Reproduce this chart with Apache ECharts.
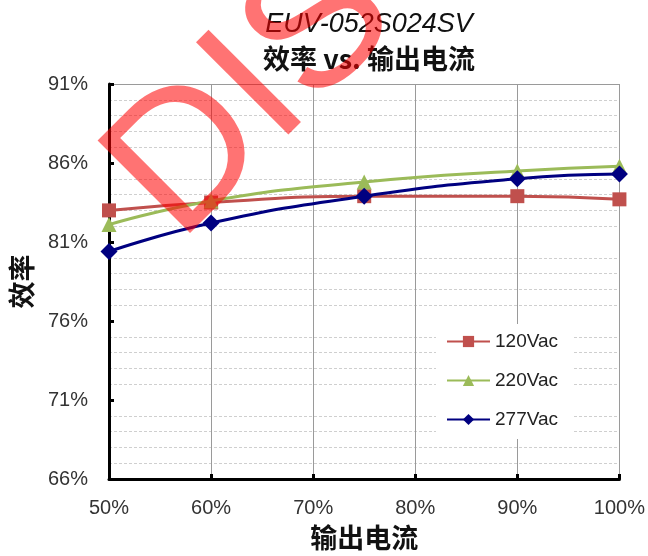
<!DOCTYPE html>
<html>
<head>
<meta charset="utf-8">
<script src="https://cdn.jsdelivr.net/npm/echarts@6/dist/echarts.min.js"></script>
<style>html,body{margin:0;padding:0;background:#fff}#c{width:648px;height:556px}</style>
</head>
<body>
<div id="c"></div>
<script>
const xLoad = [50, 60, 75, 90, 100];
const eff120 = [83.0, 83.5, 83.9, 83.9, 83.7];
const eff220 = [82.1, 83.6, 84.8, 85.5, 85.8];
const eff277 = [80.4, 82.2, 83.9, 85.0, 85.3];
const yMajorTicks = [66, 71, 76, 81, 86, 91];
const xTicks = [50, 60, 70, 80, 90, 100];
const seriesNames = ['120Vac', '220Vac', '277Vac'];
const titleText = 'EUV-052S024SV';
const subTitleText = '效率 vs. 输出电流';
const watermarkText = 'DIS';

const toPairs = arr => arr.map((v, i) => [xLoad[i], v]);
const font = 'Arial, "Liberation Sans", sans-serif';
const cjk = '"Noto Sans CJK SC", sans-serif';

const chart = echarts.init(document.getElementById('c'), null, {renderer: 'canvas'});
const majorColors = ['#9a9a9a', 'rgba(0,0,0,0)', 'rgba(0,0,0,0)', 'rgba(0,0,0,0)', 'rgba(0,0,0,0)'];
const minorColors = ['rgba(0,0,0,0)', '#cfcfcf', '#cfcfcf', '#cfcfcf', '#cfcfcf'];

chart.setOption({
  animation: false,
  backgroundColor: '#fff',
  title: [
    {text: titleText, left: 364, textAlign: 'center', top: 6,
     textStyle: {fontFamily: font, fontStyle: 'italic', fontWeight: 'normal', fontSize: 27, color: '#111'}},
    {text: subTitleText, left: 364, textAlign: 'center', top: 40,
     textStyle: {fontFamily: cjk, fontWeight: 'bold', fontSize: 27, color: '#111'}}
  ],
  grid: {left: 108, right: 27, top: 84, bottom: 73},
  legend: {
    orient: 'vertical', left: 436, top: 324,
    backgroundColor: '#fff', padding: [8, 14, 10, 10],
    itemWidth: 43, itemHeight: 14, itemGap: 20,
    textStyle: {fontFamily: font, fontSize: 19, color: '#222'},
    data: seriesNames
  },
  xAxis: {
    type: 'value', min: 50, max: 100, interval: 10,
    name: '输出电流', nameLocation: 'middle', nameGap: 45,
    nameTextStyle: {fontFamily: cjk, fontWeight: 'bold', fontSize: 27, color: '#111'},
    axisLine: {lineStyle: {color: '#000', width: 3}},
    axisTick: {show: true, inside: true, length: 5, lineStyle: {color: '#000', width: 3}},
    axisLabel: {formatter: '{value}%', fontFamily: font, fontSize: 20, color: '#333', margin: 19},
    splitLine: {show: true, lineStyle: {color: '#9a9a9a', width: 1}}
  },
  yAxis: [
    {
      type: 'value', min: 66, max: 91, interval: 1,
      name: '效率', nameLocation: 'middle', nameGap: 74, nameRotate: 90,
      nameTextStyle: {fontFamily: cjk, fontWeight: 'bold', fontSize: 27, color: '#111'},
      axisLine: {show: true, lineStyle: {color: '#000', width: 3}},
      axisTick: {show: true, inside: true, length: 5, customValues: yMajorTicks, lineStyle: {color: '#000', width: 3}},
      axisLabel: {customValues: yMajorTicks, formatter: '{value}%', fontFamily: font, fontSize: 20, color: '#333', margin: 21},
      splitLine: {show: true, lineStyle: {color: majorColors, width: 1}}
    },
    {
      type: 'value', min: 66, max: 91, interval: 1, position: 'left',
      axisLine: {show: false}, axisTick: {show: false}, axisLabel: {show: false},
      splitLine: {show: true, lineStyle: {color: minorColors, width: 1, type: [3, 2]}}
    }
  ],
  series: [
    {name: seriesNames[0], type: 'line', smooth: true, data: toPairs(eff120),
     symbol: 'rect', symbolSize: 14, itemStyle: {color: '#c0504d'}, lineStyle: {width: 3, color: '#c0504d'}, z: 3},
    {name: seriesNames[1], type: 'line', smooth: true, data: toPairs(eff220),
     symbol: 'triangle', symbolSize: 15, itemStyle: {color: '#9bbb59'}, lineStyle: {width: 3, color: '#9bbb59'}, z: 4},
    {name: seriesNames[2], type: 'line', smooth: true, data: toPairs(eff277),
     symbol: 'diamond', symbolSize: 17, itemStyle: {color: '#000080'}, lineStyle: {width: 3, color: '#000080'}, z: 5}
  ],
  graphic: [
    {type: 'text', x: 142, y: 207, rotation: Math.PI / 4, z: 100, silent: true,
     style: {text: watermarkText, fontFamily: font, fontSize: 190, fill: 'rgba(255,0,0,0.55)',
             textAlign: 'left', textVerticalAlign: 'middle'}}
  ]
});
</script>
</body>
</html>
